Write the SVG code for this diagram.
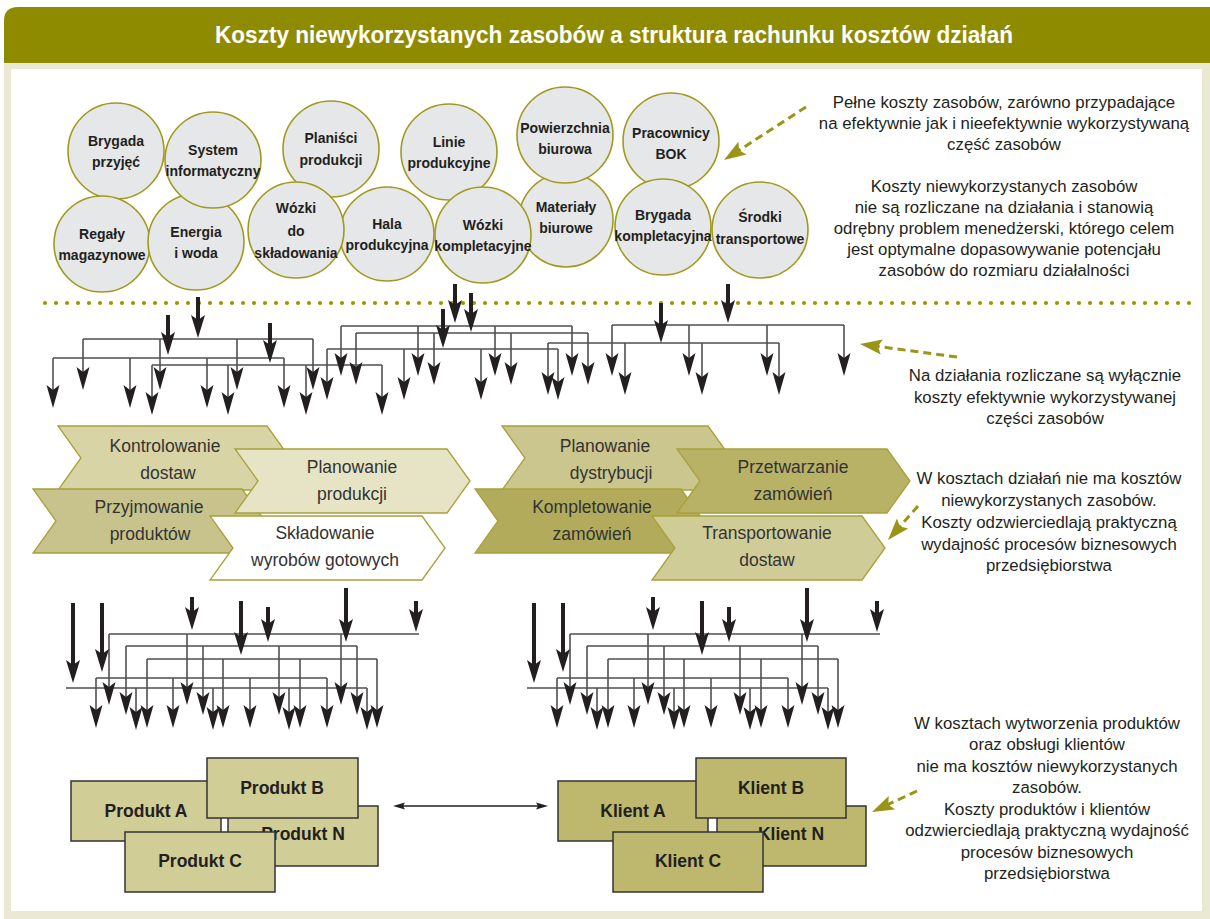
<svg xmlns="http://www.w3.org/2000/svg" xmlns:xlink="http://www.w3.org/1999/xlink" width="1210" height="919" viewBox="0 0 1210 919">
<style>
.cir{fill:#e6e7e8;stroke:#a09a1c;stroke-width:1.6}
.ct{font-family:"Liberation Sans",Arial,sans-serif;font-weight:bold;font-size:14px;fill:#231f20;text-anchor:middle}
.ch{stroke:#a7a13a;stroke-width:1.3}
.cht{font-family:"Liberation Sans",Arial,sans-serif;font-size:17.5px;fill:#333;text-anchor:middle}
.bx{stroke:#333;stroke-width:1.5}
.bt{font-family:"Liberation Sans",Arial,sans-serif;font-weight:bold;font-size:17.5px;fill:#231f20;text-anchor:middle}
.rt{font-family:"Liberation Sans",Arial,sans-serif;font-size:16.8px;fill:#231f20;text-anchor:middle}
.th{stroke:#505050;stroke-width:1.6;fill:none}
.dr{stroke:#505050;stroke-width:1.6;fill:none;marker-end:url(#ah)}
.tk{stroke:#231f20;stroke-width:4;fill:none;marker-end:url(#ahb)}
.od{stroke:#9a9417;stroke-width:3;fill:none;stroke-dasharray:8 5;marker-end:url(#ao)}
</style>
<defs>
<marker id="ah" markerUnits="userSpaceOnUse" orient="auto" overflow="visible" refX="0" refY="0" markerWidth="1" markerHeight="1"><path d="M15,0 L-8,-6.5 L-3,0 L-8,6.5 Z" fill="#231f20"/></marker>
<marker id="ahb" markerUnits="userSpaceOnUse" orient="auto" overflow="visible" refX="0" refY="0" markerWidth="1" markerHeight="1"><path d="M15,0 L-8,-7 L-3,0 L-8,7 Z" fill="#231f20"/></marker>
<marker id="as" markerUnits="userSpaceOnUse" orient="auto-start-reverse" overflow="visible" refX="0" refY="0" markerWidth="1" markerHeight="1"><path d="M6,0 L-6,-3.5 L-4,0 L-6,3.5 Z" fill="#231f20"/></marker>
<marker id="ao" markerUnits="userSpaceOnUse" orient="auto" overflow="visible" refX="0" refY="0" markerWidth="1" markerHeight="1"><path d="M8,0 L-14,-7.5 L-10,0 L-14,7.5 Z" fill="#9a9417"/></marker>
</defs>

<!-- frame -->
<path d="M4,919 V21 Q4,7 18,7 H1210 V919 Z" fill="#ebe8d3"/>
<path d="M4,63 V21 Q4,7 18,7 H1210 V63 Z" fill="#8f8b00"/>
<rect x="11" y="69" width="1191" height="842" fill="#ffffff"/>
<text x="614" y="43" textLength="798" lengthAdjust="spacingAndGlyphs" style="font-family:'Liberation Sans',Arial,sans-serif;font-weight:bold;font-size:23px;fill:#ffffff;text-anchor:middle">Koszty niewykorzystanych zasobów a struktura rachunku kosztów działań</text>

<!-- resource circles -->
<g id="n-brygada-przyjec"><circle class="cir" cx="116" cy="151" r="48"/><text class="ct" x="116" y="145.5">Brygada</text><text class="ct" x="116" y="166.5">przyjęć</text></g>
<g id="n-regaly"><circle class="cir" cx="102" cy="244" r="48"/><text class="ct" x="102" y="238.5">Regały</text><text class="ct" x="102" y="259.5">magazynowe</text></g>
<g id="n-energia"><circle class="cir" cx="196" cy="242" r="48"/><text class="ct" x="196" y="236.5">Energia</text><text class="ct" x="196" y="257.5">i woda</text></g>
<g id="n-system"><circle class="cir" cx="213" cy="160" r="48"/><text class="ct" x="213" y="155">System</text><text class="ct" x="213" y="176">informatyczny</text></g>
<g id="n-planisci"><circle class="cir" cx="331" cy="149" r="48"/><text class="ct" x="331" y="143">Planiści</text><text class="ct" x="331" y="164.5">produkcji</text></g>
<g id="n-hala"><circle class="cir" cx="387" cy="234" r="47"/><text class="ct" x="387" y="228.5">Hala</text><text class="ct" x="387" y="249.5">produkcyjna</text></g>
<g id="n-wozki-skl"><circle class="cir" cx="296" cy="230" r="48"/><text class="ct" x="296" y="213">Wózki</text><text class="ct" x="296" y="235.5">do</text><text class="ct" x="296" y="257.5">składowania</text></g>
<g id="n-linie"><circle class="cir" cx="449" cy="152" r="48"/><text class="ct" x="449" y="146.5">Linie</text><text class="ct" x="449" y="167.5">produkcyjne</text></g>
<g id="n-materialy"><circle class="cir" cx="566" cy="220" r="47"/><text class="ct" x="566" y="212">Materiały</text><text class="ct" x="566" y="232.5">biurowe</text></g>
<g id="n-wozki-komp"><circle class="cir" cx="483" cy="235" r="48"/><text class="ct" x="483" y="229.5">Wózki</text><text class="ct" x="483" y="250.5">kompletacyjne</text></g>
<g id="n-powierzchnia"><circle class="cir" cx="565" cy="135" r="48"/><text class="ct" x="565" y="133">Powierzchnia</text><text class="ct" x="565" y="154">biurowa</text></g>
<g id="n-pracownicy"><circle class="cir" cx="671" cy="141" r="48"/><text class="ct" x="671" y="138">Pracownicy</text><text class="ct" x="671" y="159">BOK</text></g>
<g id="n-brygada-komp"><circle class="cir" cx="663" cy="227" r="48"/><text class="ct" x="663" y="220">Brygada</text><text class="ct" x="663" y="241">kompletacyjna</text></g>
<g id="n-srodki"><circle class="cir" cx="760" cy="230" r="48"/><text class="ct" x="760" y="222">Środki</text><text class="ct" x="760" y="244">transportowe</text></g>

<line x1="45" y1="303" x2="1196" y2="303" stroke="#9c9600" stroke-width="4.2" stroke-linecap="round" stroke-dasharray="0 11"/>

<!-- connectors -->
<g id="connectors">
 <g id="top-tree">
  <path class="th" d="M83,339 H313 M53,358 H284 M152,365 H382 M341,326 H572 M356,333 H588 M327,349 H558 M612,325 H844 M548,343 H779"/>
  <path class="dr" d="M83,339 V375"/><path class="dr" d="M160,339 V375"/><path class="dr" d="M237,339 V375"/><path class="dr" d="M313,339 V375"/>
  <path class="dr" d="M53,358 V393"/><path class="dr" d="M130,358 V393"/><path class="dr" d="M207,358 V393"/><path class="dr" d="M284,358 V393"/>
  <path class="dr" d="M152,365 V400"/><path class="dr" d="M228,365 V400"/><path class="dr" d="M306,365 V400"/><path class="dr" d="M382,365 V400"/>
  <path class="dr" d="M341,326 V361"/><path class="dr" d="M418,326 V361"/><path class="dr" d="M495,326 V361"/><path class="dr" d="M572,326 V361"/>
  <path class="dr" d="M356,333 V370"/><path class="dr" d="M434,333 V370"/><path class="dr" d="M511,333 V370"/><path class="dr" d="M588,333 V370"/>
  <path class="dr" d="M327,349 V385"/><path class="dr" d="M404,349 V385"/><path class="dr" d="M481,349 V385"/><path class="dr" d="M558,349 V385"/>
  <path class="dr" d="M612,325 V361"/><path class="dr" d="M689,325 V361"/><path class="dr" d="M767,325 V361"/><path class="dr" d="M844,325 V361"/>
  <path class="dr" d="M548,343 V380"/><path class="dr" d="M625,343 V380"/><path class="dr" d="M702,343 V380"/><path class="dr" d="M779,343 V380"/>
  <path class="tk" d="M198,297 V323"/><path class="tk" d="M168,315 V340"/><path class="tk" d="M270,323 V348"/>
  <path class="tk" d="M455,284 V308"/><path class="tk" d="M471,293 V317"/><path class="tk" d="M443,309 V333"/>
  <path class="tk" d="M728,284 V308"/><path class="tk" d="M661,303 V328"/>
 </g>
 <g id="bottom-tree-left">
  <path class="th" d="M109,634 H419 M126,646 H357 M147,659 H377 M96,678 H327 M66,688 H367"/>
  <path class="dr" d="M109,634 V690"/><path class="dr" d="M187,634 V690"/><path class="dr" d="M341,634 V690"/>
  <path class="dr" d="M126,646 V700"/><path class="dr" d="M203,646 V700"/><path class="dr" d="M279,646 V700"/><path class="dr" d="M357,646 V700"/>
  <path class="dr" d="M147,659 V713"/><path class="dr" d="M223,659 V713"/><path class="dr" d="M300,659 V713"/><path class="dr" d="M377,659 V713"/>
  <path class="dr" d="M96,678 V713"/><path class="dr" d="M173,678 V713"/><path class="dr" d="M250,678 V713"/><path class="dr" d="M327,678 V713"/>
  <path class="dr" d="M136,688 V715"/><path class="dr" d="M213,688 V715"/><path class="dr" d="M289,688 V715"/><path class="dr" d="M367,688 V715"/>
  <path class="tk" d="M73,603 V668"/><path class="tk" d="M102,603 V657"/><path class="tk" d="M192,597 V615"/><path class="tk" d="M241,601 V640"/>
  <path class="tk" d="M268,607 V627"/><path class="tk" d="M346,588 V627"/><path class="tk" d="M416,601 V617"/>
 </g>
 <use id="bottom-tree-right" xlink:href="#bottom-tree-left" href="#bottom-tree-left" transform="translate(461 0)"/>
 <line x1="399" y1="806" x2="542" y2="806" stroke="#231f20" stroke-width="1.3" marker-start="url(#as)" marker-end="url(#as)"/>
 <path class="od" d="M806,107 L730.7,155.7"/>
 <path class="od" d="M957,357 L867.9,345.1"/>
 <path class="od" d="M918,506 L893.3,534"/>
 <path class="od" d="M917,791 L879.2,808.6"/>
</g>

<!-- activity chevrons -->
<g id="n-kontrolowanie"><polygon class="ch" fill="#d8d4a5" points="58,426 267,426 290,458 267,490 58,490 81,458"/><text class="cht" x="165" y="452">Kontrolowanie</text><text class="cht" x="168" y="479">dostaw</text></g>
<g id="n-przyjmowanie"><polygon class="ch" fill="#c8c38c" points="33,489 242,489 265,521 242,553 33,553 56,521"/><text class="cht" x="149" y="513">Przyjmowanie</text><text class="cht" x="150" y="540">produktów</text></g>
<g id="n-planowanie-prod"><polygon class="ch" fill="#e7e4c6" points="235,449 447,449 470,481 447,513 235,513 258,481"/><text class="cht" x="352" y="473">Planowanie</text><text class="cht" x="352" y="500">produkcji</text></g>
<g id="n-skladowanie"><polygon class="ch" fill="#ffffff" points="210,516 422,516 445,548 422,580 210,580 233,548"/><text class="cht" x="325" y="539">Składowanie</text><text class="cht" x="325" y="566">wyrobów gotowych</text></g>
<g id="n-planowanie-dystr"><polygon class="ch" fill="#cbc68e" points="502,426 708,426 731,458 708,490 502,490 525,458"/><text class="cht" x="605" y="452">Planowanie</text><text class="cht" x="611" y="479">dystrybucji</text></g>
<g id="n-kompletowanie"><polygon class="ch" fill="#b2ab5c" points="475,489 681,489 704,521 681,553 475,553 498,521"/><text class="cht" x="592" y="513">Kompletowanie</text><text class="cht" x="592" y="540">zamówień</text></g>
<g id="n-przetwarzanie"><polygon class="ch" fill="#b8b267" points="677,449 887,449 910,481 887,513 677,513 700,481"/><text class="cht" x="793" y="473">Przetwarzanie</text><text class="cht" x="793" y="500">zamówień</text></g>
<g id="n-transportowanie"><polygon class="ch" fill="#d0cc97" points="652,516 862,516 885,548 862,580 652,580 675,548"/><text class="cht" x="767" y="539">Transportowanie</text><text class="cht" x="767" y="566">dostaw</text></g>

<!-- products -->
<g id="n-produkt-a"><rect class="bx" fill="#d0cd97" x="71" y="781" width="150" height="60"/><text class="bt" x="146" y="817">Produkt A</text></g>
<g id="n-produkt-n"><rect class="bx" fill="#d0cd97" x="228" y="806" width="150" height="60"/><text class="bt" x="303" y="840">Produkt N</text></g>
<g id="n-produkt-b"><rect class="bx" fill="#d0cd97" x="207" y="758" width="151" height="60"/><text class="bt" x="282" y="794">Produkt B</text></g>
<g id="n-produkt-c"><rect class="bx" fill="#d0cd97" x="125" y="832" width="150" height="60"/><text class="bt" x="200" y="867">Produkt C</text></g>

<!-- clients -->
<g id="n-klient-a"><rect class="bx" fill="#bdb86d" x="558" y="781" width="150" height="60"/><text class="bt" x="633" y="817">Klient A</text></g>
<g id="n-klient-n"><rect class="bx" fill="#bdb86d" x="717" y="806" width="149" height="60"/><text class="bt" x="791" y="840">Klient N</text></g>
<g id="n-klient-b"><rect class="bx" fill="#bdb86d" x="696" y="758" width="150" height="60"/><text class="bt" x="771" y="794">Klient B</text></g>
<g id="n-klient-c"><rect class="bx" fill="#bdb86d" x="613" y="832" width="150" height="60"/><text class="bt" x="688" y="867">Klient C</text></g>

<!-- notes -->
<g id="note-1"><text class="rt" x="1004" y="108">Pełne koszty zasobów, zarówno przypadające</text><text class="rt" x="1004" y="129">na efektywnie jak i nieefektywnie wykorzystywaną</text><text class="rt" x="1004" y="150">część zasobów</text></g>
<g id="note-2"><text class="rt" x="1004" y="192">Koszty niewykorzystanych zasobów</text><text class="rt" x="1004" y="213">nie są rozliczane na działania i stanowią</text><text class="rt" x="1004" y="234">odrębny problem menedżerski, którego celem</text><text class="rt" x="1004" y="255">jest optymalne dopasowywanie potencjału</text><text class="rt" x="1004" y="276">zasobów do rozmiaru działalności</text></g>
<g id="note-3"><text class="rt" x="1045" y="381">Na działania rozliczane są wyłącznie</text><text class="rt" x="1045" y="403">koszty efektywnie wykorzystywanej</text><text class="rt" x="1045" y="424">części zasobów</text></g>
<g id="note-4"><text class="rt" x="1049" y="484">W kosztach działań nie ma kosztów</text><text class="rt" x="1049" y="506">niewykorzystanych zasobów.</text><text class="rt" x="1049" y="528">Koszty odzwierciedlają praktyczną</text><text class="rt" x="1049" y="550">wydajność procesów biznesowych</text><text class="rt" x="1049" y="571">przedsiębiorstwa</text></g>
<g id="note-5"><text class="rt" x="1047" y="729">W kosztach wytworzenia produktów</text><text class="rt" x="1047" y="750">oraz obsługi klientów</text><text class="rt" x="1047" y="772">nie ma kosztów niewykorzystanych</text><text class="rt" x="1047" y="793">zasobów.</text><text class="rt" x="1047" y="815">Koszty produktów i klientów</text><text class="rt" x="1047" y="836">odzwierciedlają praktyczną wydajność</text><text class="rt" x="1047" y="858">procesów biznesowych</text><text class="rt" x="1047" y="879">przedsiębiorstwa</text></g>
</svg>
